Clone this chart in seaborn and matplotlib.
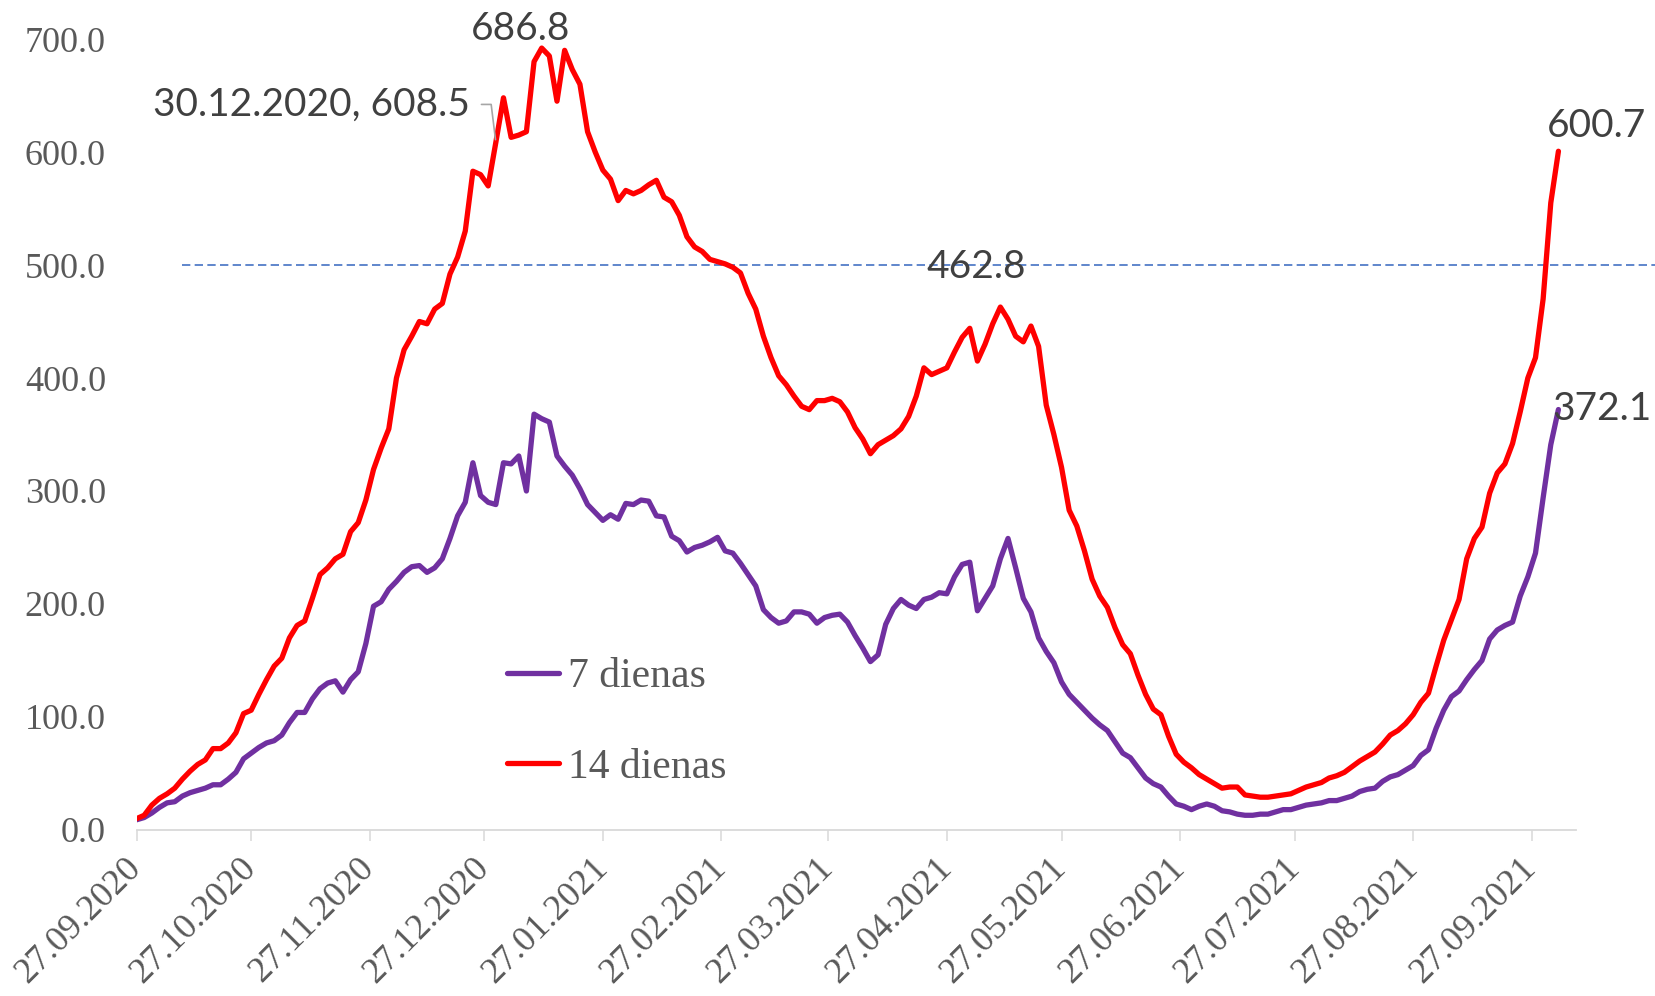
import numpy as np
import pandas as pd
import seaborn as sns
import matplotlib
matplotlib.use('Agg')
from matplotlib import pyplot as plt
import matplotlib.dates as mdates
from matplotlib.ticker import FormatStrFormatter

# Data: values every second day from 27.09.2020 to 04.10.2021
start = pd.Timestamp('2020-09-27')
dates = pd.date_range(start, periods=187, freq='2D')

days14 = [
	10, 13, 22, 28, 32, 37, 45, 52, 58, 62,
	72, 72, 77, 86, 103, 106, 120, 133, 145, 152,
	170, 181, 185, 205, 226, 232, 240, 244, 264, 272,
	292, 319, 338, 355, 400, 425, 437, 450, 448, 461,
	466, 492, 507, 530, 583, 580, 570, 608.5, 648, 613,
	615, 618, 680, 692, 685, 645, 690, 673, 660, 618,
	600, 584, 576, 557, 566, 563, 566, 571, 575, 560,
	556, 544, 525, 516, 512, 505, 503, 501, 498, 493,
	475, 461, 437, 418, 402, 394, 384, 375, 372, 380,
	380, 382, 379, 370, 356, 346, 333, 341, 345, 349,
	355, 366, 384, 409, 403, 406, 409, 423, 436, 444,
	415, 430, 448, 462.8, 452, 437, 432, 446, 428, 376,
	350, 321, 283, 269, 247, 222, 207, 197, 179, 164,
	156, 137, 120, 107, 102, 83, 67, 60, 55, 49,
	45, 41, 37, 38, 38, 31, 30, 29, 29, 30,
	31, 32, 35, 38, 40, 42, 46, 48, 51, 56,
	61, 65, 69, 76, 84, 88, 94, 102, 113, 121,
	145, 168, 186, 204, 240, 258, 268, 298, 316, 324,
	342, 370, 400, 418, 470, 555, 600.7,
]

days7 = [
	9, 11, 15, 20, 24, 25, 30, 33, 35, 37,
	40, 40, 45, 51, 63, 68, 73, 77, 79, 84,
	95, 104, 104, 116, 125, 130, 132, 122, 133, 140,
	165, 198, 202, 213, 220, 228, 233, 234, 228, 232,
	240, 258, 278, 290, 325, 296, 290, 288, 325, 324,
	331, 300, 368, 364, 361, 331, 322, 314, 302, 288,
	281, 274, 279, 275, 289, 288, 292, 291, 278, 277,
	260, 256, 246, 250, 252, 255, 259, 247, 245, 236,
	226, 216, 195, 188, 183, 185, 193, 193, 191, 183,
	188, 190, 191, 184, 172, 161, 149, 155, 182, 196,
	204, 199, 196, 204, 206, 210, 209, 224, 235, 237,
	194, 205, 216, 240, 258, 232, 205, 193, 170, 158,
	148, 131, 120, 113, 106, 99, 93, 88, 78, 68,
	64, 55, 46, 41, 38, 30, 23, 21, 18, 21,
	23, 21, 17, 16, 14, 13, 13, 14, 14, 16,
	18, 18, 20, 22, 23, 24, 26, 26, 28, 30,
	34, 36, 37, 43, 47, 49, 53, 57, 66, 71,
	90, 106, 118, 123, 133, 142, 150, 169, 177, 181,
	184, 207, 224, 245, 294, 341, 372.1,
]

series_names = ['7 dienas', '14 dienas']
series_colors = ['#7030A0', '#FF0000']

threshold = 500
threshold_dates = [pd.Timestamp('2020-10-09'), pd.Timestamp('2021-10-30')]

month_ticks = pd.date_range('2020-09-27', '2021-09-27', freq=pd.DateOffset(months=1))
y_ticks = np.arange(0, 701, 100)

df = pd.concat([
	pd.DataFrame({'date': dates, 'value': days7, 'series': series_names[0]}),
	pd.DataFrame({'date': dates, 'value': days14, 'series': series_names[1]}),
])

sns.set_theme(style='white')
plt.rcParams['font.family'] = ['Liberation Serif', 'DejaVu Serif']

fig = plt.figure(figsize=(16.55, 9.96), dpi=100)
ax = fig.add_axes([0.0825, 0.1667, 0.870, 0.7941])

sns.lineplot(data=df, x='date', y='value', hue='series', hue_order=series_names,
	palette=series_colors, linewidth=3.8, ax=ax)

ax.plot(threshold_dates, [threshold, threshold], color='#4472C4', lw=1.2,
	linestyle=(0, (5, 2.6)), clip_on=False, zorder=1)

ax.set_xlim(start, start + pd.Timedelta(days=376.7))
ax.set_ylim(0, 700)
ax.set_xticks(month_ticks)
ax.xaxis.set_major_formatter(mdates.DateFormatter('%d.%m.%Y'))
ax.set_yticks(y_ticks)
ax.yaxis.set_major_formatter(FormatStrFormatter('%.1f'))
ax.set_xlabel('')
ax.set_ylabel('')

sns.despine(ax=ax, left=True)
ax.spines['bottom'].set_color('#D9D9D9')
ax.spines['bottom'].set_linewidth(1.3)
ax.tick_params(axis='x', length=7.7, width=1.1, color='#D9D9D9', pad=16,
	labelsize=26, labelcolor='#595959', bottom=True)
ax.tick_params(axis='y', length=0, pad=22, labelsize=26, labelcolor='#595959')
plt.setp(ax.get_xticklabels(), rotation=45, ha='right', va='center', rotation_mode='anchor')

handles, labels = ax.get_legend_handles_labels()
ax.legend(handles, labels, loc='center left', bbox_to_anchor=(507 / 1655, 1 - 722.5 / 996),
	bbox_transform=fig.transFigure, frameon=False, fontsize=30, handlelength=1.25,
	handletextpad=0.22, labelspacing=1.25, borderpad=0, borderaxespad=0, labelcolor='#595959')
for line in ax.get_legend().get_lines():
	line.set_linewidth(3.8)

# Data labels
lab = dict(fontsize=28, family='Lato', color='#404040', textcoords='offset pixels')
d14 = np.array(days14)
d7 = np.array(days7)
x = mdates.date2num(dates)
i_peak = int(np.argmax(d14))
i_dec = list(dates).index(pd.Timestamp('2020-12-30'))
i_spring = int(np.argmax(d14[100:130])) + 100
ax.annotate('686.8', xy=(x[i_peak], d14[i_peak]), xytext=(-21, 8), ha='center', va='baseline', **lab)
ax.annotate('30.12.2020, 608.5', xy=(x[i_dec], d14[i_dec]), xytext=(-26, 38), ha='right', va='center',
	arrowprops=dict(arrowstyle='-', color='#A6A6A6', lw=1.2, shrinkA=6, shrinkB=2,
		connectionstyle='angle,angleA=0,angleB=97', relpos=(1, 0.5)), **lab)
ax.annotate('462.8', xy=(x[i_spring], d14[i_spring]), xytext=(-24, 29), ha='center', va='baseline', **lab)
ax.annotate('600.7', xy=(x[-1], d14[-1]), xytext=(38, 14), ha='center', va='baseline', **lab)
ax.annotate('372.1', xy=(x[-1], d7[-1]), xytext=(-6, 1), ha='left', va='center', **lab)

fig.savefig('out.png', dpi=100)
